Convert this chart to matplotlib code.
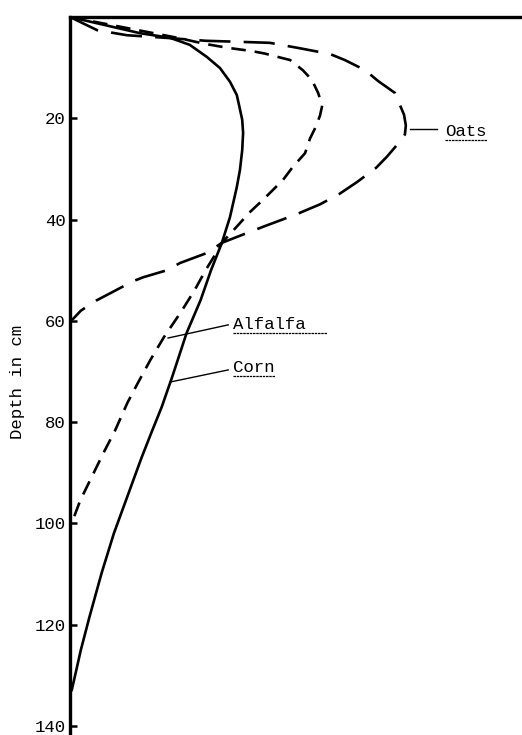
import matplotlib
matplotlib.use("Agg")
import matplotlib.pyplot as plt
from matplotlib.lines import Line2D

# ---- data (x: relative root amount, arbitrary units 0-100; y: depth in cm) ----
corn_depth = [0, 3.2, 4.1, 5.5, 7.9, 10.1, 12.8, 15.4, 17.4, 20.3, 22.9, 26.3, 30.2, 33.6,
              39.5, 44.6, 50.0, 55.9, 62.4, 71.1, 77.0, 82.1, 87.1, 95.4, 102.0, 109.8,
              118.5, 125.0, 132.9, 133.5]
corn_x = [0, 15.5, 22.1, 26.5, 30.3, 33.2, 35.4, 36.9, 37.4, 38.1, 38.3, 38.1, 37.6, 36.9,
          35.4, 33.6, 31.2, 28.9, 25.8, 22.6, 20.3, 18.0, 15.8, 12.4, 9.7, 7.0,
          4.3, 2.4, 0.4, 0]

alfalfa_depth = [0, 4.2, 5.3, 6.1, 6.7, 7.2, 7.8, 8.5, 10.5, 12.4, 15.0, 17.5, 19.5, 22.0,
                 24.0, 26.9, 29.6, 32.2, 36.1, 38.7, 41.1, 44.6, 47.4, 50.0, 53.9, 58.2,
                 63.2, 67.7, 72.3, 76.2, 81.6, 86.1, 91.4, 95.4, 99.9, 100.5]
alfalfa_x = [0, 24.3, 29.8, 35.0, 40.0, 43.0, 45.6, 48.7, 51.5, 53.5, 54.9, 55.8, 55.3, 54.2,
             53.1, 52.0, 49.3, 47.1, 42.7, 39.6, 37.2, 33.6, 31.8, 30.0, 27.6, 24.6,
             20.8, 17.8, 15.0, 12.7, 10.0, 7.4, 4.5, 2.3, 0.4, 0]

oats_depth = [0, 2.6, 3.6, 4.1, 4.7, 4.9, 5.1, 6.1, 7.3, 8.5, 10.5, 12.6, 15.0, 17.4, 19.3,
              21.4, 23.2, 25.0, 27.6, 29.8, 32.6, 35.0, 37.0, 39.0, 41.3, 43.2, 44.6, 46.6,
              48.6, 50.0, 51.4, 52.2, 54.6, 56.0, 58.0, 59.6, 60.0]
oats_x = [0, 6.0, 12.6, 21.0, 30.1, 37.4, 44.2, 50.4, 57.5, 60.8, 65.3, 68.1, 71.9, 73.0,
          73.9, 74.3, 74.1, 72.6, 70.1, 67.7, 63.5, 59.5, 55.3, 50.0, 43.1, 37.6, 33.6,
          30.3, 24.3, 21.5, 16.2, 13.9, 8.8, 5.8, 2.4, 0.7, 0]

yticks = [20, 40, 60, 80, 100, 120, 140]
ylabel = "Depth in cm"

FONT = ["Liberation Mono", "DejaVu Sans Mono"]
FS = 12.5

fig = plt.figure(figsize=(5.22, 7.35), dpi=100)
fig.patch.set_facecolor("white")
ax = fig.add_axes([70 / 522, 0, 452 / 522, 1 - 17 / 735])

ax.set_xlim(0, 100)
ax.set_ylim(141.8, 0)

LW = 1.9
ax.plot(corn_x, corn_depth, color="black", lw=LW, solid_capstyle="round",
        solid_joinstyle="round")
l_alf, = ax.plot(alfalfa_x, alfalfa_depth, color="black", lw=LW)
l_alf.set_dashes([5.5, 3.4])
l_oat, = ax.plot(oats_x, oats_depth, color="black", lw=LW)
l_oat.set_dashes([11.8, 5.0])

for s in ["right", "bottom"]:
    ax.spines[s].set_visible(False)
for s in ["left", "top"]:
    ax.spines[s].set_linewidth(2.4)
    ax.spines[s].set_color("black")

ax.set_xticks([])
ax.set_yticks(yticks)
ax.set_yticklabels([str(t) for t in yticks], fontfamily=FONT, fontsize=FS)
ax.tick_params(axis="y", direction="in", length=5, width=1.8, pad=3, colors="black")

fig.text(18 / 522, 1 - 382 / 735, ylabel, rotation=90, ha="center", va="center",
         fontfamily=FONT, fontsize=FS)

# labels with leader lines
labels = [
    ("Oats", (75.2, 22.1), (81.2, 22.1), (83.0, 22.7), 0),
    ("Alfalfa", (21.7, 63.4), (35.0, 60.8), (36.1, 60.8), 2),
    ("Corn", (22.1, 72.1), (35.0, 69.7), (36.1, 69.3), 0),
]
texts = []
for name, p0, p1, tp, extra in labels:
    ax.add_line(Line2D([p0[0], p1[0]], [p0[1], p1[1]], color="black", lw=1.0))
    t = ax.text(tp[0], tp[1], name, ha="left", va="center", fontfamily=FONT, fontsize=FS)
    texts.append((t, extra))

fig.canvas.draw()
r = fig.canvas.get_renderer()
for t, extra in texts:
    bb = t.get_window_extent(r)
    y = bb.y0 - 1
    x0, x1 = bb.x0, bb.x1 + extra * bb.width / 7
    fig.add_artist(Line2D([x0 / fig.bbox.width, x1 / fig.bbox.width],
                          [y / fig.bbox.height, y / fig.bbox.height],
                          color="black", lw=0.9, linestyle=(0, (2, 0.6))))

fig.savefig("out.png", dpi=100, facecolor="white")
